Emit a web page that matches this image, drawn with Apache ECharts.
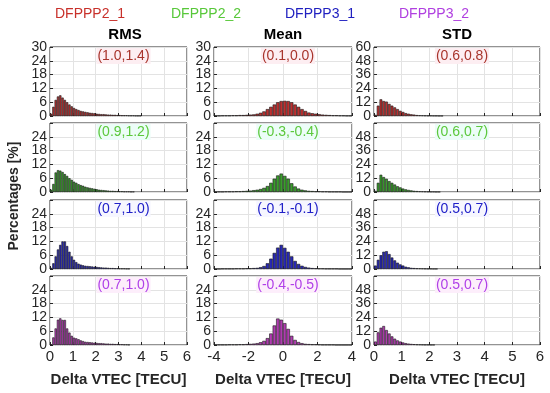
<!DOCTYPE html>
<html><head><meta charset="utf-8">
<script src="https://cdn.jsdelivr.net/npm/echarts@6/dist/echarts.min.js"></script>
<style>html,body{margin:0;padding:0;background:#fff}#c{width:550px;height:393px}</style>
</head><body><div id="c"></div>
<script>
// ---- data (percentages per bin) ----
const solutions = ['DFPPP2_1', 'DFPPP2_2', 'DFPPP3_1', 'DFPPP3_2'];
const statNames = ['RMS', 'Mean', 'STD'];
const yTicksPct = [0, 6, 12, 18, 24, 30];
const yTicksSTD = [0, 12, 24, 36, 48, 60];
const rmsBinStart = 0, rmsBinWidth = 0.1;
const meanBinStart = -4, meanBinWidth = 0.2;
const stdBinStart = 0, stdBinWidth = 0.1;

const rms_DFPPP2_1 = [1.0,4.0,7.0,8.5,9.0,8.0,7.0,6.0,5.0,4.2,3.5,3.0,2.6,2.2,2.0,1.8,1.6,1.4,1.3,1.2,1.0,0.9,0.8,0.8,0.7,0.6,0.6,0.5,0.5,0.4,0.4,0.3,0.3,0.3,0.2,0.2,0.2,0.1,0.1,0.1];
const rms_DFPPP2_2 = [1.0,3.5,8.5,9.5,9.3,8.7,7.8,7.0,6.0,5.3,4.5,4.0,3.4,3.0,2.7,2.3,2.0,1.8,1.6,1.4,1.2,1.0,0.9,0.8,0.7,0.6,0.5,0.5,0.4,0.4,0.3,0.3,0.2,0.2,0.2,0.1,0.1];
const rms_DFPPP3_1 = [0.5,2.5,5.5,8.5,10.5,12.0,12.0,10.0,7.5,5.5,4.0,3.0,2.3,1.9,1.6,1.4,1.3,1.2,1.1,1.0,0.9,0.8,0.7,0.6,0.6,0.5,0.4,0.4,0.3,0.3,0.2,0.2,0.2,0.1,0.1];
const rms_DFPPP3_2 = [0.3,3.3,7.2,11.0,11.6,10.9,10.9,7.2,5.4,4.0,3.2,2.9,2.5,2.0,1.7,1.4,1.3,1.2,1.1,1.0,0.9,0.8,0.8,0.7,0.6,0.6,0.5,0.5,0.4,0.4,0.3,0.3,0.2,0.2,0.1];

const mean_DFPPP2_1 = [0.1,0.1,0.2,0.2,0.2,0.3,0.3,0.4,0.4,0.5,0.6,0.7,1.0,1.4,2.0,3.0,4.0,5.0,6.0,6.5,6.6,6.5,6.0,5.0,4.0,3.0,2.2,1.5,1.2,1.0,0.8,0.6,0.5,0.4,0.3,0.3,0.2,0.2,0.1,0.1];
const mean_DFPPP2_2 = [0.1,0.1,0.1,0.2,0.2,0.2,0.3,0.3,0.4,0.5,0.6,0.8,1.0,1.3,1.8,2.6,4.0,5.8,7.2,8.0,7.0,5.8,3.8,2.4,1.5,1.0,0.7,0.5,0.4,0.3,0.3,0.2,0.2,0.1,0.1,0.1,0.1,0.0,0.0,0.0];
const mean_DFPPP3_1 = [0.0,0.0,0.1,0.1,0.1,0.1,0.2,0.2,0.2,0.3,0.3,0.4,0.5,0.8,1.3,2.5,4.5,7.0,9.3,10.5,9.2,7.5,5.5,3.5,2.2,1.4,0.9,0.6,0.4,0.3,0.2,0.2,0.1,0.1,0.1,0.1,0.0,0.0,0.0,0.0];
const mean_DFPPP3_2 = [0.1,0.1,0.1,0.1,0.2,0.2,0.2,0.3,0.3,0.4,0.5,0.6,0.8,1.2,1.8,3.0,5.0,8.5,11.5,11.0,9.5,7.0,4.0,2.2,1.3,0.8,0.5,0.4,0.3,0.3,0.2,0.1,0.1,0.1,0.1,0.0,0.0,0.0,0.0,0.0];

const std_DFPPP2_1 = [1.0,9.0,14.5,13.0,12.5,10.5,9.0,7.5,6.0,4.5,3.5,2.5,2.0,1.5,1.2,0.8,0.6,0.5,0.4,0.3,0.3,0.2,0.2,0.1,0.1];
const std_DFPPP2_2 = [1.0,8.0,15.0,13.0,11.5,9.5,8.0,6.5,5.0,4.0,3.0,2.3,1.8,1.4,1.0,0.8,0.6,0.5,0.4,0.3,0.2,0.2,0.1,0.1];
const std_DFPPP3_1 = [3.0,8.0,12.0,15.0,15.5,13.0,10.0,7.5,5.5,4.0,3.0,2.0,1.5,1.0,0.8,0.6,0.5,0.4,0.3,0.2,0.2,0.1,0.1];
const std_DFPPP3_2 = [3.0,11.0,15.0,16.5,13.0,10.0,7.5,5.5,4.0,3.0,2.2,1.6,1.2,0.9,0.7,0.5,0.4,0.3,0.2,0.2,0.1,0.1];

// (mean, rms) annotations per panel
const annRMS  = ['(1.0,1.4)', '(0.9,1.2)', '(0.7,1.0)', '(0.7,1.0)'];
const annMean = ['(0.1,0.0)', '(-0.3,-0.4)', '(-0.1,-0.1)', '(-0.4,-0.5)'];
const annSTD  = ['(0.6,0.8)', '(0.6,0.7)', '(0.5,0.7)', '(0.5,0.7)'];

// ---- styles / layout ----
const barColors  = ['#bc3030', '#3a9e2c', '#2828b8', '#b03cb0'];
const textColors = ['#a8342c', '#5cc83c', '#2020c8', '#b040e8'];
const annBg = ['#fdeef2', '#ecfdf8', '#f6f6ff', '#fdeefb'];
const legendColors = ['#c8302a', '#58c83a', '#2020c0', '#b040e0'];
const FONT = 'Liberation Sans, Arial, sans-serif';
const cols = [[50, 187], [214, 352], [374, 540]];
const rowTops = [47, 123, 200, 276];
const rowH = 69;

const chart = echarts.init(document.getElementById('c'), null, {renderer: 'canvas'});
const panels = [
  {data: [rms_DFPPP2_1, rms_DFPPP2_2, rms_DFPPP3_1, rms_DFPPP3_2], start: rmsBinStart, w: rmsBinWidth, xmin: 0, xmax: 6, xint: 1, yticks: yTicksPct, ann: annRMS},
  {data: [mean_DFPPP2_1, mean_DFPPP2_2, mean_DFPPP3_1, mean_DFPPP3_2], start: meanBinStart, w: meanBinWidth, xmin: -4, xmax: 4, xint: 2, yticks: yTicksPct, ann: annMean},
  {data: [std_DFPPP2_1, std_DFPPP2_2, std_DFPPP3_1, std_DFPPP3_2], start: stdBinStart, w: stdBinWidth, xmin: 0, xmax: 6, xint: 1, yticks: yTicksSTD, ann: annSTD}
];

const grids = [], xAxes = [], yAxes = [], series = [], graphics = [];
let gi = 0;
for (let r = 0; r < 4; r++) {
  for (let c = 0; c < 3; c++) {
    const p = panels[c];
    const [l, rt] = cols[c];
    const w = rt - l;
    const ymax = p.yticks[p.yticks.length - 1];
    const yint = p.yticks[1] - p.yticks[0];
    grids.push({left: l, top: rowTops[r], width: w, height: rowH, show: true,
      borderColor: '#262626', borderWidth: 1, backgroundColor: '#fff'});
    xAxes.push({type: 'value', gridIndex: gi, min: p.xmin, max: p.xmax, interval: p.xint,
      axisLine: {show: false, onZero: false},
      axisTick: {show: true, inside: true, length: 3, lineStyle: {color: '#262626'}},
      axisLabel: {show: r === 3, color: '#262626', fontSize: 15, fontFamily: FONT, margin: 4},
      splitLine: {show: true, lineStyle: {color: '#e3e3e3', width: 1}}});
    yAxes.push({type: 'value', gridIndex: gi, min: 0, max: ymax, interval: yint,
      axisLine: {show: false, onZero: false},
      axisTick: {show: true, inside: true, length: 3, lineStyle: {color: '#262626'}},
      axisLabel: {show: false},
      splitLine: {show: true, lineStyle: {color: '#e3e3e3', width: 1}}});
    const vals = p.data[r];
    const pts = vals.map((v, i) => [p.start + (i + 0.5) * p.w, v]);
    const bw = w * p.w / (p.xmax - p.xmin);
    series.push({type: 'bar', xAxisIndex: gi, yAxisIndex: gi, data: pts, barWidth: bw,
      itemStyle: {color: barColors[r], borderColor: '#1a1a1a', borderWidth: 0.6},
      silent: true, animation: false});
    graphics.push({type: 'text', x: (l + rt) / 2 + 5, y: rowTops[r] + 9, z: 100,
      style: {text: p.ann[r], fill: textColors[r], font: '14px ' + FONT, backgroundColor: annBg[r], padding: [1, 1],
        align: 'center', verticalAlign: 'middle', textAlign: 'center', textVerticalAlign: 'middle'}});
    gi++;
  }
}
// column titles
const titleX = [125, 283, 457];
statNames.forEach((t, i) => graphics.push({type: 'text', x: titleX[i], y: 35,
  style: {text: t, fill: '#000', font: 'bold 15px ' + FONT, align: 'center', verticalAlign: 'middle', textAlign: 'center', textVerticalAlign: 'middle'}}));
// legend-like labels
const legX = [90, 206, 320, 434];
solutions.forEach((t, i) => graphics.push({type: 'text', x: legX[i], y: 14,
  style: {text: t, fill: legendColors[i], font: '14px ' + FONT, align: 'center', verticalAlign: 'middle', textAlign: 'center', textVerticalAlign: 'middle'}}));
// x-axis names
cols.forEach(([l, r]) => graphics.push({type: 'text', x: (l + r) / 2, y: 380,
  style: {text: 'Delta VTEC [TECU]', fill: '#262626', font: 'bold 15px ' + FONT, align: 'center', verticalAlign: 'middle', textAlign: 'center', textVerticalAlign: 'middle'}}));
// y-axis name
graphics.push({type: 'text', x: 14, y: 196, rotation: Math.PI / 2,
  style: {text: 'Percentages [%]', fill: '#262626', font: 'bold 14px ' + FONT, align: 'center', verticalAlign: 'middle', textAlign: 'center', textVerticalAlign: 'middle'}});

chart.setOption({animation: false, grid: grids, xAxis: xAxes, yAxis: yAxes, series: series, graphic: graphics});

// y tick labels placed through the library's own y scales
const tickLabels = [];
gi = 0;
for (let r = 0; r < 4; r++) {
  for (let c = 0; c < 3; c++) {
    const ticks = panels[c].yticks;
    const shown = r === 0 ? ticks : ticks.slice(0, -1);
    shown.forEach(v => {
      const py = chart.convertToPixel({yAxisIndex: gi}, v);
      tickLabels.push({type: 'text', x: cols[c][0] - 3, y: py,
        style: {text: String(v), fill: '#262626', font: '14px ' + FONT,
          align: 'right', verticalAlign: 'middle', textAlign: 'right', textVerticalAlign: 'middle'}});
    });
    gi++;
  }
}
chart.setOption({graphic: graphics.concat(tickLabels)});
</script></body></html>
